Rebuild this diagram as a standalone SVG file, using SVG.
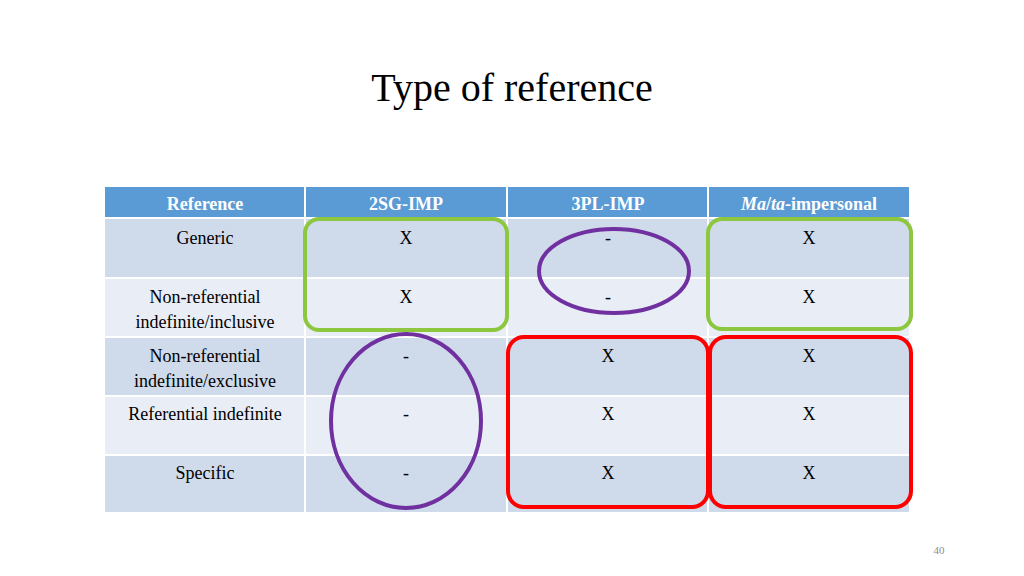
<svg xmlns="http://www.w3.org/2000/svg" width="1024" height="576" viewBox="0 0 1024 576">
<style>
text{font-family:"Liberation Serif",serif;fill:#000}
.h{fill:#fff;font-weight:bold;font-size:18px;text-anchor:middle}
.c{font-size:18px;text-anchor:middle}
.d{fill:#cfdaea}.l{fill:#e8edf6}
.g{fill:none;stroke:#8dc63f;stroke-width:4}
.p{fill:none;stroke:#7030a0;stroke-width:4}
.r{fill:none;stroke:#ff0000;stroke-width:4}
</style>
<rect width="1024" height="576" fill="#fff"/>
<text x="512" y="101" font-size="40" text-anchor="middle">Type of reference</text>
<g id="table" stroke="#fff" stroke-width="2">
<rect x="104" y="186" width="806" height="32" fill="#5b9bd5"/>
<rect x="104" y="218" width="806" height="60" class="d"/>
<rect x="104" y="278" width="806" height="59" class="l"/>
<rect x="104" y="337" width="806" height="59" class="d"/>
<rect x="104" y="396" width="806" height="59" class="l"/>
<rect x="104" y="455" width="806" height="58" class="d"/>
<path d="M305 186V513M507 186V513M708 186V513"/>
</g>
<g id="text">
<text class="h" x="205" y="210">Reference</text>
<text class="h" x="406" y="210">2SG-IMP</text>
<text class="h" x="608" y="210">3PL-IMP</text>
<text class="h" x="809" y="210"><tspan font-style="italic">Ma</tspan>/<tspan font-style="italic">ta</tspan>-impersonal</text>
<text class="c" x="205" y="244">Generic</text>
<text class="c" x="205" y="303">Non-referential</text>
<text class="c" x="205" y="328">indefinite/inclusive</text>
<text class="c" x="205" y="362">Non-referential</text>
<text class="c" x="205" y="387">indefinite/exclusive</text>
<text class="c" x="205" y="420">Referential indefinite</text>
<text class="c" x="205" y="479">Specific</text>
<text class="c" x="406" y="244">X</text><text class="c" x="608" y="244">-</text><text class="c" x="809" y="244">X</text>
<text class="c" x="406" y="303">X</text><text class="c" x="608" y="303">-</text><text class="c" x="809" y="303">X</text>
<text class="c" x="406" y="362">-</text><text class="c" x="608" y="362">X</text><text class="c" x="809" y="362">X</text>
<text class="c" x="406" y="420">-</text><text class="c" x="608" y="420">X</text><text class="c" x="809" y="420">X</text>
<text class="c" x="406" y="479">-</text><text class="c" x="608" y="479">X</text><text class="c" x="809" y="479">X</text>
</g>
<g id="marks">
<rect class="g" x="305" y="219" width="202" height="111" rx="14"/>
<rect class="g" x="708" y="219" width="203" height="110" rx="14"/>
<ellipse class="p" cx="614" cy="271" rx="75" ry="42"/>
<ellipse class="p" cx="406" cy="421" rx="75" ry="87"/>
<rect class="r" x="508" y="337" width="200" height="170" rx="16"/>
<rect class="r" x="710" y="337" width="201" height="170" rx="16"/>
</g>
<text x="939" y="554" font-size="11" fill="#8c8c8c" text-anchor="middle" style="fill:#8c8c8c">40</text>
</svg>
